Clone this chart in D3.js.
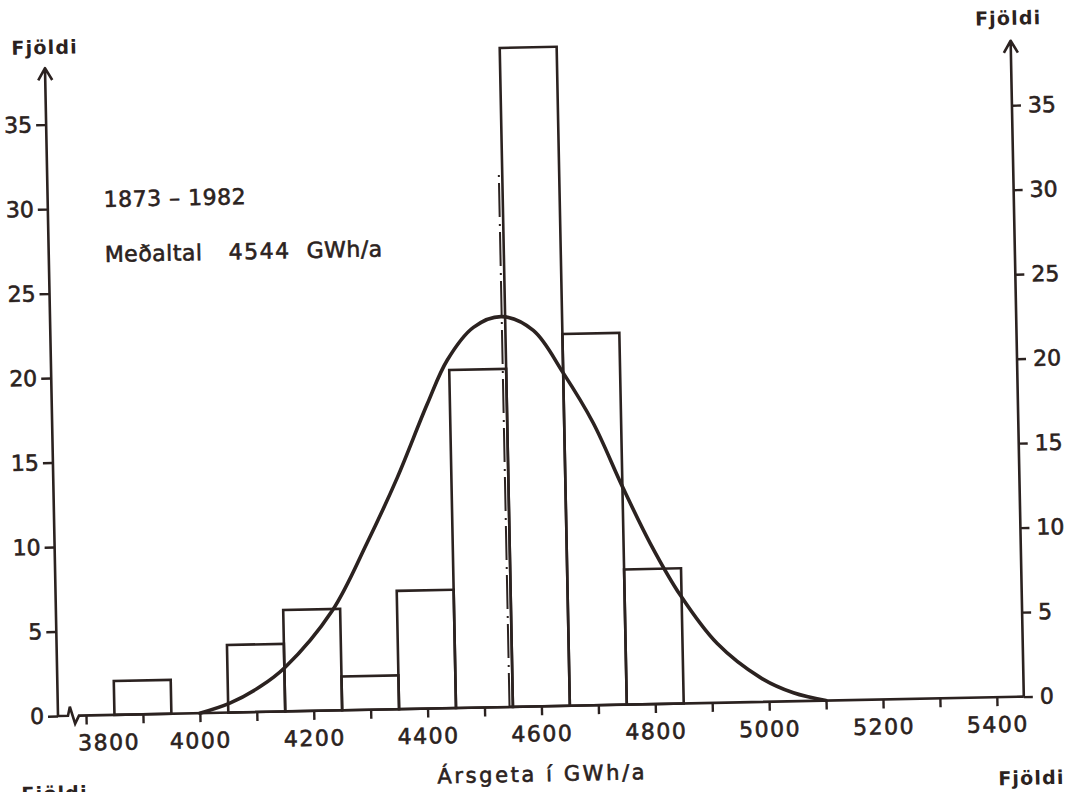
<!DOCTYPE html>
<html>
<head>
<meta charset="utf-8">
<script src="https://cdn.jsdelivr.net/npm/d3@7"></script>
<style>
  html, body { margin: 0; padding: 0; background: #ffffff; }
  svg { display: block; }
</style>
</head>
<body>
<svg id="chart" width="1067" height="792"></svg>
<script>
// ---------------- data ----------------
const binStarts = [3850, 4050, 4150, 4250, 4350, 4450, 4550, 4650, 4750];
const binEnds   = [3950, 4150, 4250, 4350, 4450, 4550, 4650, 4750, 4850];
const counts    = [2, 4, 6, 2, 7, 20, 39, 22, 8];

// fitted curve
const curveX = [4000, 4053, 4107, 4151, 4236, 4300, 4355, 4410, 4447, 4494, 4544,
                4599, 4650, 4701, 4750, 4797, 4848, 4911, 4985, 5043, 5100];
const curveY = [0, 0.56, 1.5, 2.6, 5.9, 9.9, 13.7, 18.0, 20.6, 22.5, 23.1,
                22.25, 19.7, 16.7, 12.9, 9.5, 6.4, 3.5, 1.45, 0.5, 0];

const xTicks = [3800, 3900, 4000, 4100, 4200, 4300, 4400, 4500, 4600, 4700,
                4800, 4900, 5000, 5100, 5200, 5300, 5400];
const xTickLabels = [3800, 4000, 4200, 4400, 4600, 4800, 5000, 5200, 5400];
const yTicks = [0, 5, 10, 15, 20, 25, 30, 35];

const meanValue = 4544;
const meanLineTop = 31.5;
const periodLabel = "1873 – 1982";
const meanLabelParts = ["Meðaltal", "4544", "GWh/a"];
const xTitle = "Ársgeta í GWh/a";
const yTitle = "Fjöldi";

// ---------------- layout ----------------
const ink = "#2b2220";
const leftX = 58, rightX = 1024, baseY = 716;
const svg = d3.select("#chart");
const g = svg.append("g").attr("transform", `rotate(-1.15, ${leftX}, ${baseY})`);

const x = d3.scaleLinear().domain([3800, 5400]).range([86, 997]);
const y = d3.scaleLinear().domain([0, 35]).range([baseY, baseY - 35 * 16.9]);

const font = "'DejaVu Sans', 'Liberation Sans', sans-serif";
const heavy = sel => sel.attr("stroke", ink).attr("stroke-width", 0.6);

// ---------------- bars ----------------
const bins = counts.map((c, i) => ({ x0: binStarts[i], x1: binEnds[i], c }));
g.append("g").selectAll("rect").data(bins).join("rect")
  .attr("x", d => x(d.x0))
  .attr("y", d => y(d.c))
  .attr("width", d => x(d.x1) - x(d.x0))
  .attr("height", d => y(0) - y(d.c))
  .attr("fill", "none")
  .attr("stroke", ink)
  .attr("stroke-width", 2.6);

// ---------------- mean line (dash-dot) ----------------
g.append("line")
  .attr("x1", x(meanValue)).attr("x2", x(meanValue))
  .attr("y1", y(0)).attr("y2", y(meanLineTop))
  .attr("stroke", ink).attr("stroke-width", 2)
  .attr("stroke-dasharray", "34,6,2,7");

// ---------------- fitted curve ----------------
const curvePts = curveX.map((v, i) => [v, curveY[i]]);
g.append("path")
  .datum(curvePts)
  .attr("d", d3.line().x(d => x(d[0])).y(d => y(d[1])).curve(d3.curveCatmullRom.alpha(0.5)))
  .attr("fill", "none")
  .attr("stroke", ink)
  .attr("stroke-width", 3.6)
  .attr("stroke-linecap", "round");

// ---------------- baseline with break ----------------
g.append("path")
  .attr("d", `M${leftX},${baseY} H${leftX + 10} L${leftX + 12},${baseY - 9} L${leftX + 17},${baseY + 8} L${leftX + 21},${baseY} H${rightX}`)
  .attr("fill", "none").attr("stroke", ink).attr("stroke-width", 2.6)
  .attr("stroke-linejoin", "miter");

// ---------------- x axis ticks & labels ----------------
const xAxis = g.append("g").attr("transform", `translate(0,${baseY})`)
  .call(d3.axisBottom(x).tickValues(xTicks).tickSize(9)
        .tickFormat(d => xTickLabels.includes(d) ? String(d) : ""));
xAxis.select(".domain").remove();
xAxis.selectAll(".tick line").attr("stroke", ink).attr("stroke-width", 2.4);
xAxis.selectAll(".tick text")
  .attr("y", 35).attr("dy", 0)
  .attr("dx", d => d === xTickLabels[0] ? 22 : 0)
  .attr("fill", ink).call(heavy)
  .style("font-family", font).style("font-size", "22px")
  .style("letter-spacing", "1.5px");

// ---------------- left y axis ----------------
const yLeft = g.append("g").attr("transform", `translate(${leftX},0)`)
  .call(d3.axisLeft(y).tickValues(yTicks).tickSize(10).tickPadding(4));
yLeft.select(".domain").remove();
yLeft.selectAll(".tick line").attr("stroke", ink).attr("stroke-width", 2.4);
yLeft.selectAll(".tick text").attr("fill", ink).call(heavy)
  .style("font-family", font).style("font-size", "22px");
yLeft.append("path")
  .attr("d", `M0,${baseY} V68 M-7,80 L0,68 L7,80`)
  .attr("fill", "none").attr("stroke", ink).attr("stroke-width", 2.6)
  .attr("stroke-linejoin", "round");

// ---------------- right y axis ----------------
const yRight = g.append("g").attr("transform", `translate(${rightX},0)`)
  .call(d3.axisRight(y).tickValues(yTicks).tickSize(9).tickPadding(7));
yRight.select(".domain").remove();
yRight.selectAll(".tick line").attr("stroke", ink).attr("stroke-width", 2.4);
yRight.selectAll(".tick text").attr("fill", ink).call(heavy)
  .style("font-family", font).style("font-size", "22px");
yRight.append("path")
  .attr("d", `M0,${baseY} V60 M-7,72 L0,60 L7,72`)
  .attr("fill", "none").attr("stroke", ink).attr("stroke-width", 2.6)
  .attr("stroke-linejoin", "round");

// ---------------- axis titles ----------------
const titleStyle = sel => sel.attr("fill", ink).attr("text-anchor", "middle")
  .style("font-family", font).style("font-size", "19px")
  .style("font-weight", "bold").style("letter-spacing", "1.2px");
g.append("text").attr("x", leftX).attr("y", 54).text(yTitle).call(titleStyle);
g.append("text").attr("x", rightX - 2).attr("y", 44).text(yTitle).call(titleStyle);
g.append("text").attr("x", rightX + 6).attr("y", 804).text(yTitle).call(titleStyle);
g.append("text").attr("x", leftX - 5).attr("y", 800).text(yTitle).call(titleStyle);

g.append("text")
  .attr("x", 541).attr("y", 791)
  .attr("text-anchor", "middle").attr("fill", ink).call(heavy)
  .style("font-family", font).style("font-size", "21px")
  .style("letter-spacing", "2.6px")
  .text(xTitle);

// ---------------- annotations ----------------
g.append("text")
  .attr("x", 114).attr("y", 208)
  .attr("fill", ink).call(heavy)
  .style("font-family", font).style("font-size", "22px")
  .style("letter-spacing", "0.5px")
  .text(periodLabel);

const mt = g.append("text")
  .attr("x", 114).attr("y", 263)
  .attr("fill", ink).call(heavy)
  .style("font-family", font).style("font-size", "22px");
mt.selectAll("tspan").data(meanLabelParts).join("tspan")
  .attr("dx", (d, i) => i === 0 ? 0 : (i === 1 ? 26 : 16))
  .style("letter-spacing", (d, i) => i === 1 ? "1.5px" : "0.5px")
  .text(d => d);
</script>
</body>
</html>
